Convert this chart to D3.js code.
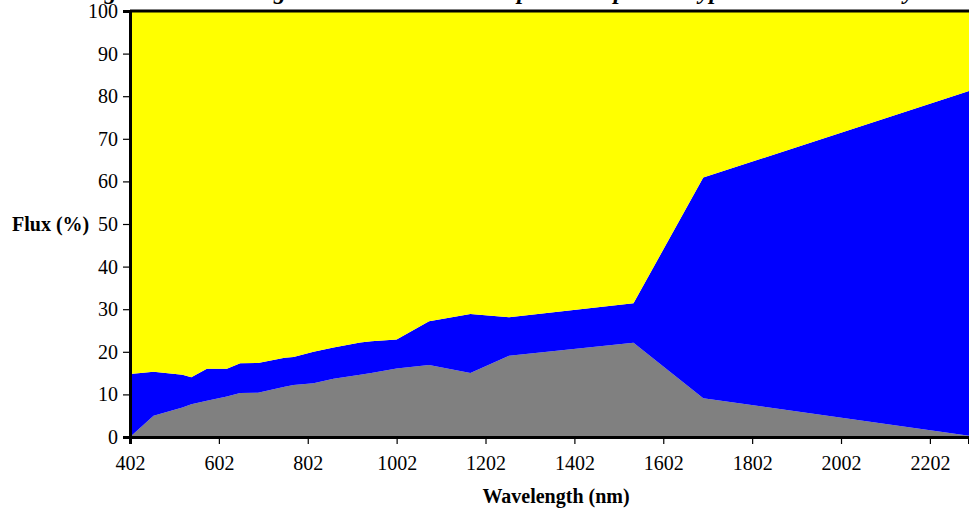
<!DOCTYPE html>
<html><head><meta charset="utf-8">
<script src="https://cdn.jsdelivr.net/npm/d3@7"></script>
<style>
html,body{margin:0;padding:0;background:#fff;overflow:hidden;}
svg{display:block;}
text{font-family:"Liberation Serif","Times New Roman",serif;}
</style></head>
<body>
<svg id="chart" width="969" height="513"></svg>
<script>
// ---- data ----
const wavelengths = [402, 455, 520, 540, 575, 620, 650, 690, 750, 770, 815, 860, 920, 945, 1002, 1075, 1168, 1255, 1535, 1692, 2290];
// bottom layer (gray)
const grayValues  = [0.0, 5.0, 6.9, 7.7, 8.5, 9.5, 10.3, 10.4, 11.8, 12.2, 12.6, 13.7, 14.6, 15.0, 16.1, 16.9, 15.0, 19.1, 22.1, 9.1, 0.3];
// middle layer (blue), thickness
const blueValues  = [14.8, 10.3, 7.7, 6.3, 7.5, 6.5, 7.0, 7.0, 6.8, 6.6, 7.4, 7.3, 7.6, 7.5, 6.8, 10.3, 13.9, 9.0, 9.3, 51.8, 80.9];
// top layer (yellow) fills to 100 %
const yellowValues = grayValues.map((g, i) => +(100 - g - blueValues[i]).toFixed(1));
const xTickValues = [402, 602, 802, 1002, 1202, 1402, 1602, 1802, 2002, 2202];
const yTickValues = [0, 10, 20, 30, 40, 50, 60, 70, 80, 90, 100];
const seriesKeys = ["gray", "blue", "yellow"];
const seriesColors = {gray: "#808080", blue: "#0000FF", yellow: "#FFFF00"};
const titleText = "Figure 3.3.4: Average Normal Total Solar Optical Properties Type 1 UV Coated Polyester";

// ---- layout ----
const mLeft = 130, mRight = 969, mTop = 11, mBottom = 437;
const svg = d3.select("#chart");

const x = d3.scaleLinear().domain([402, 2290]).range([mLeft, mRight]);
const y = d3.scaleLinear().domain([0, 100]).range([mBottom, mTop]);

const rows = wavelengths.map((w, i) => ({w, gray: grayValues[i], blue: blueValues[i], yellow: yellowValues[i]}));
const stacked = d3.stack().keys(seriesKeys)(rows);

const area = d3.area()
  .x(d => x(d.data.w))
  .y0(d => y(d[0]))
  .y1(d => y(d[1]));

svg.append("g").selectAll("path").data(stacked).join("path")
  .attr("d", area)
  .attr("fill", d => seriesColors[d.key])
  .attr("stroke", "none");

// top frame line
svg.append("line").attr("x1", mLeft).attr("x2", mRight).attr("y1", mTop).attr("y2", mTop)
  .attr("stroke", "#000").attr("stroke-width", 3);

// y axis
const yAxis = d3.axisLeft(y).tickValues(yTickValues).tickSize(7).tickPadding(5);
const gy = svg.append("g").attr("transform", `translate(${mLeft},0)`).call(yAxis);
gy.select(".domain").attr("stroke", "#000").attr("stroke-width", 3);
gy.selectAll(".tick line").attr("stroke", "#000").attr("stroke-width", 1.2);
gy.selectAll(".tick text").attr("font-family", "Liberation Serif").attr("font-size", 20).attr("fill", "#000");

// x axis
const xAxis = d3.axisBottom(x).tickValues(xTickValues).tickFormat(d3.format("d")).tickSize(7).tickPadding(12);
const gx = svg.append("g").attr("transform", `translate(0,${mBottom})`).call(xAxis);
gx.select(".domain").attr("stroke", "#000").attr("stroke-width", 3);
gx.selectAll(".tick line").attr("stroke", "#000").attr("stroke-width", 1.2);
gx.selectAll(".tick text").attr("font-family", "Liberation Serif").attr("font-size", 20).attr("fill", "#000");

// axis titles
svg.append("text").attr("x", 12).attr("y", y(50)).attr("dy", "0.35em")
  .attr("font-weight", "bold").attr("font-size", 20).text("Flux (%)");
svg.append("text").attr("x", 556).attr("y", 503).attr("text-anchor", "middle")
  .attr("font-weight", "bold").attr("font-size", 20).text("Wavelength (nm)");

// title (clipped at top in reference: only its lowest pixels show)
svg.append("text").attr("x", 82).attr("y", -1)
  .attr("font-weight", "bold").attr("font-style", "italic").attr("font-size", 24)
  .text(titleText);
</script>
</body></html>
